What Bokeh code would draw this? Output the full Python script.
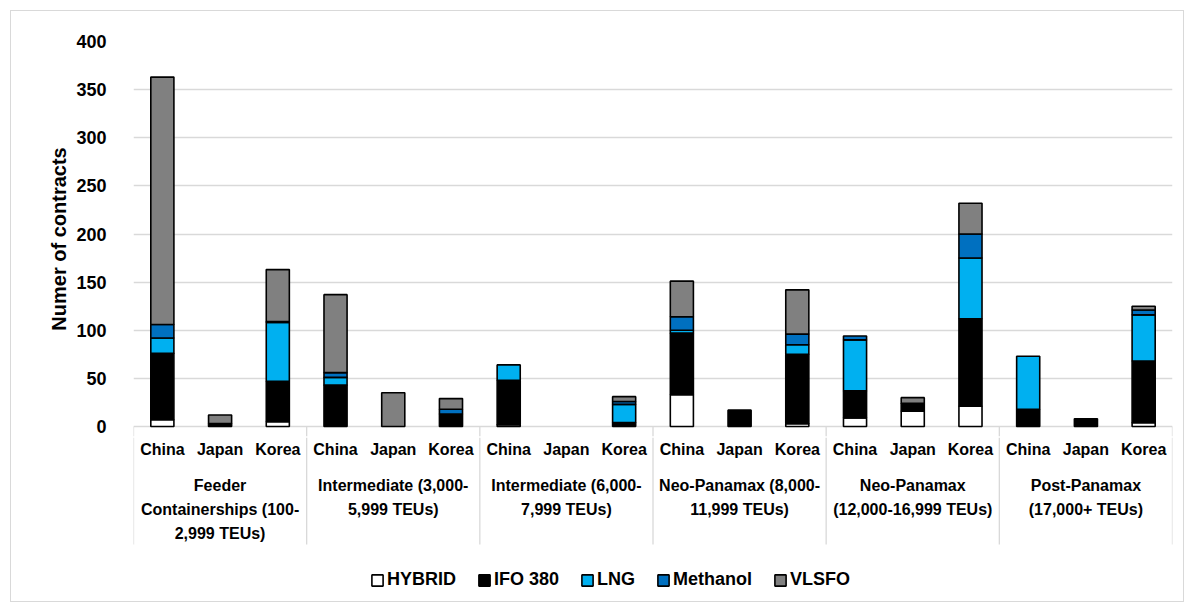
from bokeh.plotting import figure
from bokeh.layouts import column
from bokeh.models import (Range1d, FixedTicker, ColumnDataSource, Legend, LegendItem)
from bokeh.core.properties import value
from bokeh.embed import file_html
from bokeh.resources import INLINE

countries = ["China", "Japan", "Korea"]
groups = [
    "Feeder\nContainerships (100-\n2,999 TEUs)",
    "Intermediate (3,000-\n5,999 TEUs)",
    "Intermediate (6,000-\n7,999 TEUs)",
    "Neo-Panamax (8,000-\n11,999 TEUs)",
    "Neo-Panamax\n(12,000-16,999 TEUs)",
    "Post-Panamax\n(17,000+ TEUs)",
]
series = ["HYBRID", "IFO 380", "LNG", "Methanol", "VLSFO"]

# order: for each group -> China, Japan, Korea
hybrid   = [7, 0, 5,    0, 0, 0,    2, 0, 0,   33, 0, 3,    9, 16, 21,   0, 0, 4]
ifo380   = [69, 3, 42,  43, 0, 13,  46, 0, 4,  64, 17, 72,  28, 8, 91,   18, 8, 64]
lng      = [16, 0, 61,  8, 0, 0,    16, 0, 19, 3, 0, 10,    53, 0, 63,   55, 0, 48]
methanol = [14, 0, 1,   5, 0, 5,    0, 0, 3,   14, 0, 11,   4, 0, 25,    0, 0, 5]
vlsfo    = [257, 9, 54, 81, 35, 11, 0, 0, 5,   37, 0, 46,   0, 6, 32,    0, 0, 4]
yticks = [0, 50, 100, 150, 200, 250, 300, 350, 400]

values = [hybrid, ifo380, lng, methanol, vlsfo]
colors = ["#FFFFFF", "#000000", "#00B0F0", "#0070C0", "#808080"]

FONT = "Liberation Sans"
GRID = "#d9d9d9"
W = 1172

nc = len(countries)
n = len(groups) * nc
xs = list(range(n))
xr = Range1d(-0.5, n - 0.5)
sep = [g * nc - 0.5 for g in range(len(groups) + 1)]

# ---------------- main chart ----------------
PLOT_H = 385.0              # pixels for 0..400
EXTRA = 10.0                # pixels below zero inside the frame
ymin = -EXTRA * 400.0 / PLOT_H
p = figure(width=W, height=426, x_range=xr, y_range=Range1d(ymin, 400),
           output_backend="svg", toolbar_location=None, x_axis_location=None,
           min_border_left=122, min_border_right=11, min_border_top=30,
           min_border_bottom=1)
p.outline_line_color = None
for g in p.xgrid:
    g.visible = False

p.yaxis.ticker = FixedTicker(ticks=yticks)
p.ygrid.ticker = FixedTicker(ticks=yticks)
p.ygrid.grid_line_color = GRID
p.ygrid.grid_line_width = 1.3
ya = p.yaxis[0]
ya.axis_line_color = None
ya.major_tick_line_color = None
ya.minor_tick_line_color = None
ya.major_label_standoff = 21
ya.major_label_text_font = FONT
ya.major_label_text_font_style = "bold"
ya.major_label_text_font_size = "18px"
ya.major_label_text_color = "black"
ya.axis_label = "Numer of contracts"
ya.axis_label_text_font = FONT
ya.axis_label_text_font_style = "bold"
ya.axis_label_text_font_size = "20px"
ya.axis_label_text_color = "black"
ya.axis_label_standoff = 3

# separators start at the category axis
p.segment(x0=sep, y0=[0] * len(sep), x1=sep, y1=[ymin] * len(sep),
          line_color=GRID, line_width=1.3)

cum = [0] * n
for name, vals, col in zip(series, values, colors):
    bx, bb, bt = [], [], []
    for i, v in enumerate(vals):
        if v > 0:
            bx.append(xs[i]); bb.append(cum[i]); bt.append(cum[i] + v)
        cum[i] += v
    src = ColumnDataSource(dict(x=bx, bottom=bb, top=bt))
    p.vbar(x="x", bottom="bottom", top="top", width=0.4, source=src,
           fill_color=col, line_color="black", line_width=1.6)

# ---------------- category labels + legend ----------------
H2 = 164
q = figure(width=W, height=H2, x_range=xr, y_range=Range1d(H2, 0),
           output_backend="svg", toolbar_location=None,
           x_axis_location=None, y_axis_location=None,
           min_border_left=122, min_border_right=11, min_border_top=0,
           min_border_bottom=0)
q.outline_line_color = None
q.grid.visible = False

q.segment(x0=sep, y0=[0] * len(sep), x1=sep, y1=[107] * len(sep),
          line_color=GRID, line_width=1.3)

q.text(x=xs, y=[12] * n, text=[countries[i % nc] for i in xs],
       text_font=value(FONT), text_font_style="bold", text_font_size="16px",
       text_color="black", text_align="center", text_baseline="middle")

gt = [g * nc + 1 for g in range(len(groups))]
q.text(x=gt, y=[39] * len(gt), text=groups,
       text_font=value(FONT), text_font_style="bold", text_font_size="16px",
       text_color="black", text_align="center", text_baseline="top",
       text_line_height=1.44)

nan = float("nan")
items = []
for name, col in zip(series, colors):
    r = q.vbar(x=[nan], top=[nan], bottom=[nan], width=0.4, fill_color=col,
               line_color="black", line_width=1.6)
    items.append(LegendItem(label=name, renderers=[r]))

legend = Legend(items=items, orientation="horizontal", location=(237, 11))
legend.border_line_color = None
legend.background_fill_alpha = 0
legend.label_text_font = FONT
legend.label_text_font_style = "bold"
legend.label_text_font_size = "18px"
legend.label_text_color = "black"
legend.glyph_width = 14
legend.glyph_height = 14
legend.label_standoff = 3
legend.spacing = 21
legend.padding = 6
legend.margin = 0
q.add_layout(legend)

layout = column(p, q, spacing=0,
                styles={"position": "absolute", "left": "10px", "top": "10px",
                        "border": "1px solid #d9d9d9", "background": "white"})

open("out.html", "w").write(file_html(layout, INLINE))
